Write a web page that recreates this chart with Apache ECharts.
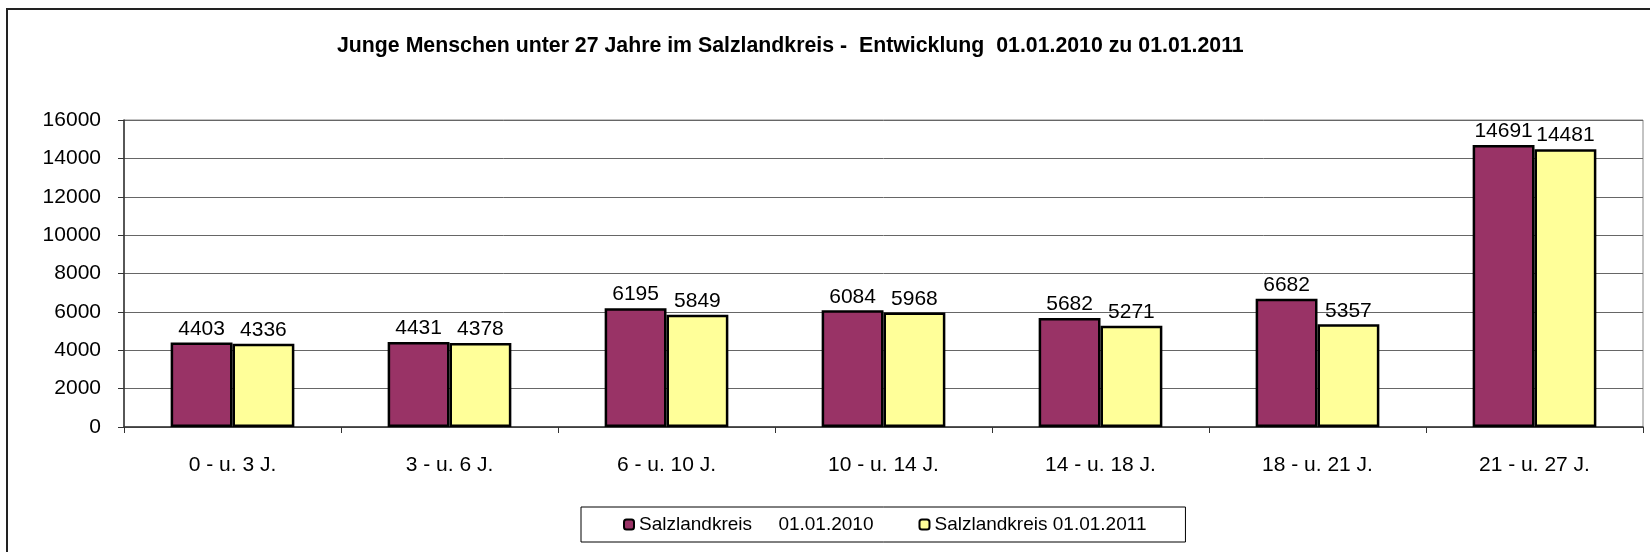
<!DOCTYPE html>
<html style="height: 100%">
<head>
    <meta charset="utf-8">
    <script src="https://cdn.jsdelivr.net/npm/echarts@6/dist/echarts.min.js"></script>
    <title>Junge Menschen unter 27 Jahre</title>
</head>
<body style="height: 100%; margin: 0; background: #fff">
<div id="container" style="width: 1650px; height: 552px"></div>
<script type="text/javascript">
let categories = ['0 - u. 3 J.', '3 - u. 6 J.', '6 - u. 10 J.', '10 - u. 14 J.', '14 - u. 18 J.', '18 - u. 21 J.', '21 - u. 27 J.']
let values2010 = [4403, 4431, 6195, 6084, 5682, 6682, 14691]
let values2011 = [4336, 4378, 5849, 5968, 5271, 5357, 14481]
let seriesNames = ['Salzlandkreis     01.01.2010', 'Salzlandkreis 01.01.2011']
let yTicks = {min: 0, max: 16000, interval: 2000}

const FONT = '"Liberation Sans", Arial, sans-serif'

let chart = echarts.init(document.getElementById('container'))

function barSeries(name, data, color) {
    return {
        name: name,
        type: 'bar',
        data: data,
        barGap: '0%',
        barCategoryGap: '43%',
        itemStyle: {
            color: color,
            borderColor: '#000',
            borderWidth: 2.5
        },
        label: {
            show: true,
            position: 'top',
            distance: 3,
            color: '#000',
            fontSize: 21,
            fontFamily: FONT
        }
    }
}

chart.setOption({
    animation: false,
    backgroundColor: '#fff',
    title: {
        text: 'Junge Menschen unter 27 Jahre im Salzlandkreis -  Entwicklung  01.01.2010 zu 01.01.2011',
        left: 337,
        top: 36,
        padding: 0,
        textStyle: {
            fontSize: 21.3,
            fontWeight: 'bold',
            color: '#000',
            fontFamily: FONT
        }
    },
    legend: {
        data: seriesNames,
        left: 581,
        top: 507,
        padding: [8, 39, 8, 42],
        itemGap: 45,
        itemWidth: 10,
        itemHeight: 10,
        borderColor: '#000',
        borderWidth: 1,
        textStyle: {
            fontSize: 19,
            color: '#000',
            fontFamily: FONT
        }
    },
    grid: {
        left: 124,
        top: 120,
        right: 7,
        bottom: 125,
        show: true,
        borderColor: '#888',
        borderWidth: 1,
        containLabel: false
    },
    xAxis: {
        type: 'category',
        data: categories,
        axisLine: {lineStyle: {color: '#333', width: 1.5}},
        axisTick: {show: true, length: 6, lineStyle: {color: '#333'}},
        axisLabel: {
            margin: 28,
            fontSize: 21,
            color: '#000',
            fontFamily: FONT
        }
    },
    yAxis: {
        type: 'value',
        min: yTicks.min,
        max: yTicks.max,
        interval: yTicks.interval,
        axisLine: {show: true, lineStyle: {color: '#333', width: 1.5}},
        axisTick: {show: true, length: 6, lineStyle: {color: '#333'}},
        axisLabel: {
            margin: 23,
            fontSize: 21,
            color: '#000',
            fontFamily: FONT,
            formatter: v => String(v)
        },
        splitLine: {show: true, lineStyle: {color: '#666', width: 1}}
    },
    series: [
        barSeries(seriesNames[0], values2010, '#993366'),
        barSeries(seriesNames[1], values2011, '#FFFF99')
    ],
    graphic: [
        {
            // outer chart frame, right and bottom edges fall outside the picture
            type: 'rect',
            shape: {x: 7, y: 9, width: 1700, height: 600},
            style: {fill: null, stroke: '#222', lineWidth: 2},
            silent: true
        }
    ]
}, true)
</script>
</body>
</html>
